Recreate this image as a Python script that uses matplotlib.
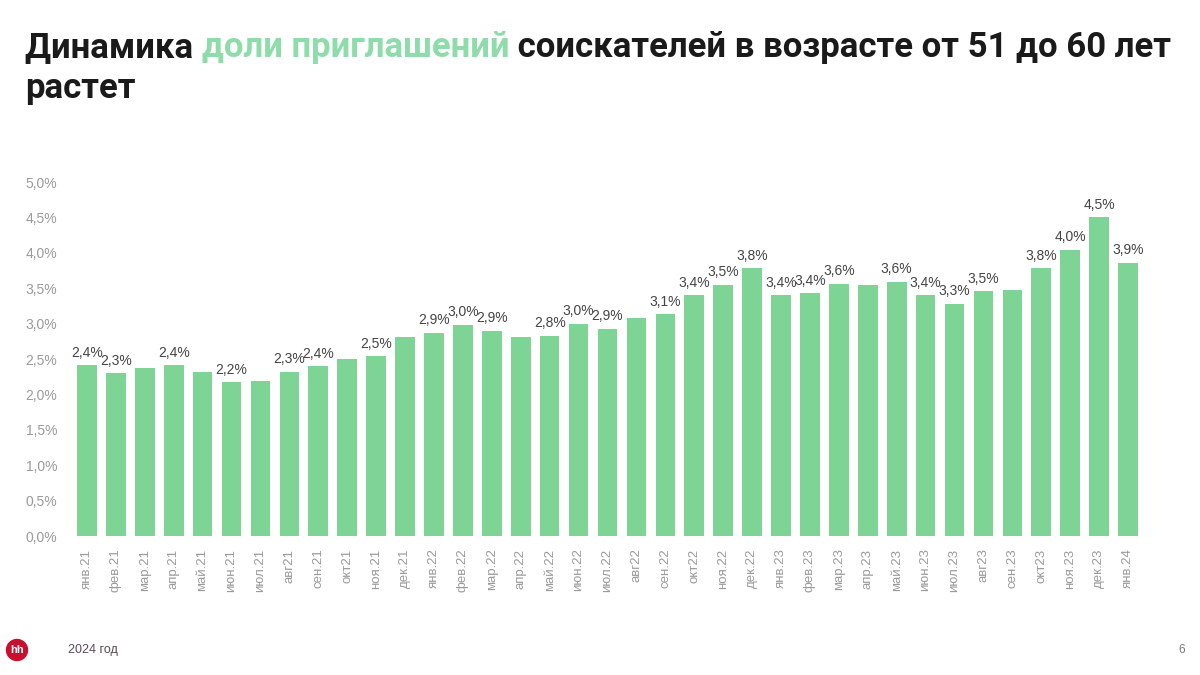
import matplotlib
matplotlib.use("Agg")
import matplotlib.pyplot as plt
from matplotlib.patches import Ellipse

months = ['янв.21', 'фев.21', 'мар.21', 'апр.21', 'май.21', 'июн.21', 'июл.21', 'авг21',
          'сен.21', 'окт21', 'ноя.21', 'дек.21',
          'янв.22', 'фев.22', 'мар.22', 'апр.22', 'май.22', 'июн.22', 'июл.22', 'авг22',
          'сен.22', 'окт22', 'ноя.22', 'дек.22',
          'янв.23', 'фев.23', 'мар.23', 'апр.23', 'май.23', 'июн.23', 'июл.23', 'авг23',
          'сен.23', 'окт23', 'ноя.23', 'дек.23', 'янв.24']

values = [2.41, 2.30, 2.37, 2.41, 2.32, 2.17, 2.19, 2.32, 2.40, 2.50, 2.54, 2.81,
          2.87, 2.98, 2.90, 2.81, 2.83, 3.00, 2.93, 3.08, 3.13, 3.40, 3.55, 3.78,
          3.40, 3.43, 3.56, 3.55, 3.59, 3.40, 3.28, 3.46, 3.47, 3.78, 4.04, 4.50, 3.86]

# which bars carry a value label in the original
labelled = [1, 1, 0, 1, 0, 1, 0, 1, 1, 0, 1, 0,
            1, 1, 1, 0, 1, 1, 1, 0, 1, 1, 1, 1,
            1, 1, 1, 0, 1, 1, 1, 1, 0, 1, 1, 1, 1]

yticks = [0.0, 0.5, 1.0, 1.5, 2.0, 2.5, 3.0, 3.5, 4.0, 4.5, 5.0]

BAR = '#7dd494'
GRAY = '#9a9a9a'

fig = plt.figure(figsize=(12, 6.75), dpi=100)
ax = fig.add_axes([0.0604, 0.2059, 0.8917, 0.5244])

x = list(range(len(values)))
ax.bar(x, values, width=0.68, color=BAR)
ax.set_xlim(-0.5, len(values) - 0.5)
ax.set_ylim(0, 5.0)
ax.set_yticks(yticks)
ax.set_yticklabels([f"{v:.1f}%".replace('.', ',') for v in yticks],
                   fontsize=10, color=GRAY, family='Liberation Sans')
ax.set_xticks(x)
ax.set_xticklabels(months, rotation=90, fontsize=9.5, color=GRAY,
                   family='Liberation Sans', va='top', ha='center')
ax.tick_params(axis='both', length=0)
ax.tick_params(axis='y', pad=11)
ax.tick_params(axis='x', pad=9)
for s in ax.spines.values():
    s.set_visible(False)

for xi, v, show in zip(x, values, labelled):
    if show:
        ax.annotate(f"{v:.1f}%".replace('.', ','), (xi, v), xytext=(0, 4),
                    textcoords='offset points', ha='center', va='bottom',
                    fontsize=10, color='#444444', family='Liberation Sans')

# Title with a coloured fragment
fig.canvas.draw()
renderer = fig.canvas.get_renderer()
title_parts = [("Динамика ", '#1a1a1a'), ("доли приглашений", '#8edcaa'),
               (" соискателей в возрасте от 51 до 60 лет", '#1a1a1a')]
tfam = ['Roboto', 'DejaVu Sans']
xpos = 25 / 1200
ypos = 1 - 57 / 675
for txt, col in title_parts:
    t = fig.text(xpos, ypos, txt, fontsize=25, fontweight='bold', color=col,
                 family=tfam, ha='left', va='baseline')
    bb = t.get_window_extent(renderer=renderer)
    xpos += bb.width / 1200
fig.text(25 / 1200, 1 - 98 / 675, "растет", fontsize=25, fontweight='bold',
         color='#1a1a1a', family=tfam, ha='left', va='baseline')

# Footer
logo = Ellipse((17 / 1200, 1 - 650 / 675), width=21 / 1200, height=21 / 675,
               transform=fig.transFigure, color='#c8102e')
fig.patches.append(logo)
fig.text(17 / 1200, 1 - 650 / 675, "hh", color='white', fontsize=8, fontweight='bold',
         ha='center', va='center', family='Liberation Sans')
fig.text(68 / 1200, 1 - 650 / 675, "2024 год", color='#5a4a55', fontsize=9,
         ha='left', va='center', family='Liberation Sans')
fig.text(1182 / 1200, 1 - 650 / 675, "6", color='#777777', fontsize=8.5,
         ha='center', va='center', family='Liberation Sans')

fig.savefig('out.png', dpi=100, facecolor='white')
